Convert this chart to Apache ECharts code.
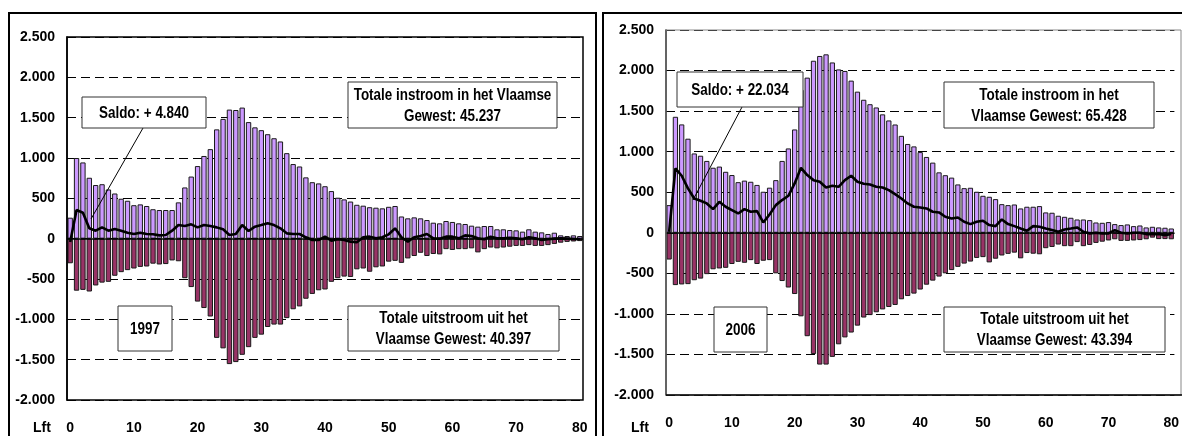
<!DOCTYPE html>
<html>
<head>
<meta charset="utf-8">
<script src="https://cdn.jsdelivr.net/npm/echarts@6/dist/echarts.min.js"></script>
<style>
html,body{margin:0;padding:0;background:#fff;}
#c{width:1182px;height:436px;}
</style>
</head>
<body>
<div id="c"></div>
<script>
// ---- DATA ----
const ages = Array.from({length: 81}, (_, i) => String(i));
const yTicks = [-2000, -1500, -1000, -500, 0, 500, 1000, 1500, 2000, 2500];

const inflow1997 = [260,1000,945,755,665,675,610,560,495,470,415,425,405,365,355,355,355,450,635,770,
  900,1025,1110,1355,1485,1600,1595,1625,1445,1380,1345,1295,1245,1205,1060,925,895,760,700,685,
  650,590,508,487,460,420,409,390,384,376,395,405,275,252,264,252,231,198,190,219,
  207,190,182,161,149,157,157,116,116,107,103,87,116,87,78,58,74,41,33,41,33];
const outflow1997 = [-305,-645,-635,-655,-580,-545,-535,-460,-415,-390,-370,-350,-345,-310,-320,-315,-270,-280,-490,-600,
  -780,-860,-965,-1230,-1360,-1555,-1530,-1440,-1345,-1230,-1190,-1095,-1065,-1065,-985,-875,-840,-745,-685,-640,
  -630,-535,-490,-470,-475,-380,-370,-410,-355,-345,-285,-275,-300,-245,-215,-175,-215,-190,-195,-130,
  -140,-130,-130,-120,-170,-130,-110,-120,-110,-100,-90,-90,-80,-90,-90,-80,-65,-50,-40,-35,-30];
const saldo1997 = [-40,355,322,128,99,140,99,120,99,74,58,74,58,54,41,45,99,169,157,178,
  140,169,157,140,116,45,58,169,95,149,169,190,169,128,66,58,58,17,-17,-17,
  25,-25,-8,-17,-37,-45,17,25,4,17,54,128,17,-37,17,33,58,4,0,25,
  25,4,41,33,4,-8,25,4,4,12,4,-8,17,4,-17,-8,0,4,0,-4,-8];

const inflow2006 = [341,1430,1336,1160,978,950,886,802,816,752,712,624,643,629,590,506,556,649,886,1040,
  1274,1763,1913,2121,2180,2200,2100,2014,1995,1876,1740,1640,1585,1545,1460,1385,1335,1195,1095,1065,
  995,935,865,745,710,680,596,550,555,506,456,444,415,353,341,349,300,321,321,329,
  251,247,210,197,185,164,164,156,127,123,132,107,95,103,82,90,66,74,66,62,53];
const outflow2006 = [-330,-645,-637,-633,-585,-565,-510,-450,-440,-432,-385,-358,-370,-337,-385,-345,-337,-500,-595,-675,
  -755,-1030,-1275,-1495,-1625,-1625,-1530,-1375,-1290,-1230,-1145,-1045,-1015,-980,-945,-915,-890,-820,-780,-750,
  -700,-640,-590,-540,-500,-460,-420,-380,-355,-310,-300,-365,-320,-280,-260,-245,-315,-250,-258,-265,
  -190,-175,-145,-165,-165,-115,-165,-150,-125,-110,-95,-80,-100,-100,-95,-90,-80,-60,-78,-78,-80];
const saldo2006 = [12,793,703,547,423,395,362,292,382,321,280,238,292,259,267,127,226,341,403,456,
  608,801,711,649,629,559,580,567,649,703,629,604,596,567,559,526,477,423,362,321,
  312,300,259,251,197,177,189,136,107,136,148,95,82,164,107,82,53,25,82,74,
  53,33,12,41,53,66,12,-8,0,-8,-8,33,0,-8,0,0,-16,-16,-16,-29,-16];

const panelYears = ['1997', '2006'];
const saldoLabels = ['Saldo: + 4.840', 'Saldo: + 22.034'];
const inLabels = ['Totale instroom in het Vlaamse\nGewest: 45.237', 'Totale instroom in het\nVlaamse Gewest: 65.428'];
const outLabels = ['Totale uitstroom uit het\nVlaamse Gewest: 40.397', 'Totale uitstroom uit het\nVlaamse Gewest: 43.394'];
const xAxisName = 'Lft';

// ---- STYLE ----
const FONT = '"Liberation Sans", Arial, sans-serif';
const C_IN = '#cc99ff', C_OUT = '#993366';

function fmt(v) {
  const s = Math.abs(v).toString().replace(/\B(?=(\d{3})+(?!\d))/g, '.');
  return (v < 0 ? '-' : '') + s;
}

const grids = [
  {left: 67, top: 37, width: 516, height: 363},
  {left: 666, top: 30, width: 516, height: 365}
];

const xAxes = grids.map((g, k) => ({
  type: 'category', gridIndex: k, data: ages, boundaryGap: true,
  axisLine: {show: false}, axisTick: {show: false},
  axisLabel: {interval: 9, margin: 21, color: '#000', fontFamily: FONT, fontWeight: 'bold', fontSize: 14},
  splitLine: {show: false}
}));
const yAxes = grids.map((g, k) => ({
  type: 'value', gridIndex: k, min: -2000, max: 2500, interval: 500,
  axisLine: {show: true, onZero: false, lineStyle: {color: '#000', width: 1.5}},
  axisTick: {show: false},
  axisLabel: {margin: 12, color: '#000', fontFamily: FONT, fontWeight: 'bold', fontSize: 14,
    formatter: v => yTicks.indexOf(v) >= 0 ? fmt(v) : ''},
  splitLine: {show: true, lineStyle: {color: '#000', width: 1, type: [9, 5]}}
}));

const sets = [[inflow1997, outflow1997, saldo1997], [inflow2006, outflow2006, saldo2006]];
const series = [];
sets.forEach((s, k) => {
  series.push({type: 'bar', xAxisIndex: k, yAxisIndex: k, data: s[0], barCategoryGap: '16%', barGap: '-100%',
    itemStyle: {color: C_IN, borderColor: '#1a1a1a', borderWidth: 1}, silent: true, animation: false});
  series.push({type: 'bar', xAxisIndex: k, yAxisIndex: k, data: s[1], barCategoryGap: '16%', barGap: '-100%',
    itemStyle: {color: C_OUT, borderColor: '#1a1a1a', borderWidth: 1}, silent: true, animation: false});
  series.push({type: 'line', xAxisIndex: k, yAxisIndex: k, data: s[2], symbol: 'none', z: 5,
    lineStyle: {color: '#000', width: 2.6}, animation: false,
    markLine: {silent: true, symbol: 'none', label: {show: false}, animation: false,
      lineStyle: {color: '#000', width: 1.5, type: 'solid'}, data: [{yAxis: 0}]}});
});

function box(x, y, w, h, txt) {
  return {type: 'group', z: 100, children: [
    {type: 'rect', z: 100, shape: {x: x, y: y, width: w, height: h}, style: {fill: '#fff', stroke: '#333', lineWidth: 1}},
    {type: 'text', z: 101, x: x + w / 2, y: y + h / 2 + 1, scaleX: 0.84,
      style: {text: txt, fill: '#000', align: 'center', verticalAlign: 'middle',
      font: 'bold 16px ' + FONT, lineHeight: 21}}
  ]};
}

const graphic = [
  // panel frames
  {type: 'rect', z: 50, shape: {x: 9, y: 13, width: 587, height: 440}, style: {fill: 'none', stroke: '#000', lineWidth: 2}},
  {type: 'rect', z: 50, shape: {x: 603, y: 13, width: 600, height: 440}, style: {fill: 'none', stroke: '#000', lineWidth: 2}},
  // plot area borders
  {type: 'rect', z: 40, shape: {x: 67, y: 37, width: 516, height: 363}, style: {fill: 'none', stroke: '#000', lineWidth: 1.5}},
  {type: 'rect', z: 40, shape: {x: 666, y: 30, width: 515, height: 365}, style: {fill: 'none', stroke: '#888', lineWidth: 1}},
  {type: 'line', z: 41, shape: {x1: 666, y1: 395, x2: 1182, y2: 395}, style: {stroke: '#000', lineWidth: 1.5}},
  // axis names
  {type: 'text', z: 50, x: 42, y: 428, style: {text: xAxisName, fill: '#000', align: 'center', verticalAlign: 'middle', font: 'bold 14px ' + FONT}},
  {type: 'text', z: 50, x: 640, y: 428, style: {text: xAxisName, fill: '#000', align: 'center', verticalAlign: 'middle', font: 'bold 14px ' + FONT}},
  // leader lines
  {type: 'line', z: 99, shape: {x1: 143, y1: 128, x2: 91, y2: 219}, style: {stroke: '#000', lineWidth: 1}},
  {type: 'line', z: 99, shape: {x1: 742, y1: 107, x2: 693, y2: 200}, style: {stroke: '#000', lineWidth: 1}},
  // annotation boxes
  box(82, 97, 124, 31, saldoLabels[0]),
  box(348, 82, 209, 46, inLabels[0]),
  box(118, 306, 54, 45, panelYears[0]),
  box(348, 306, 211, 45, outLabels[0]),
  box(677, 72, 126, 35, saldoLabels[1]),
  box(944, 82, 210, 46, inLabels[1]),
  box(714, 307, 53, 45, panelYears[1]),
  box(944, 307, 221, 45, outLabels[1])
];

const chart = echarts.init(document.getElementById('c'), null, {renderer: 'canvas'});
chart.setOption({
  animation: false,
  grid: grids,
  xAxis: xAxes,
  yAxis: yAxes,
  series: series,
  graphic: graphic
});
</script>
</body>
</html>
